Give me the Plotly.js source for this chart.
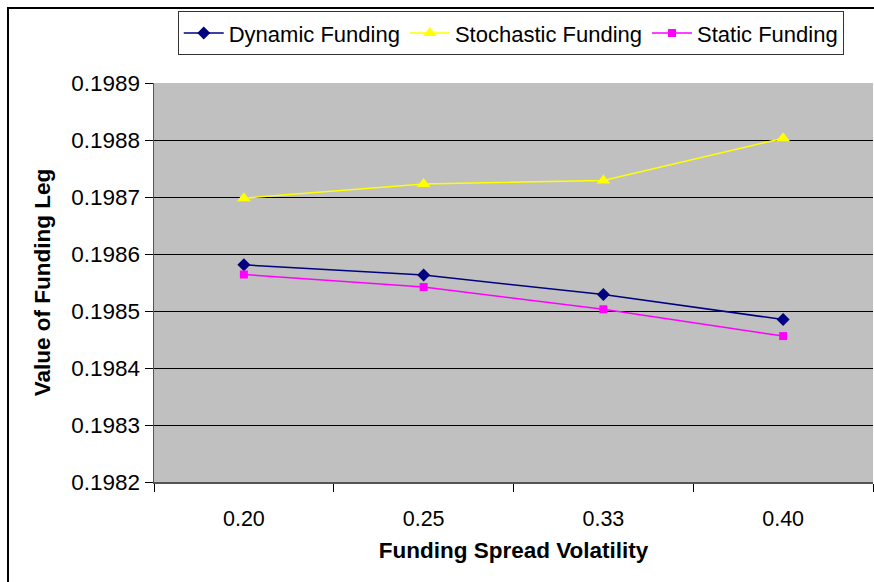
<!DOCTYPE html>
<html>
<head>
<meta charset="utf-8">
<script src="https://cdn.plot.ly/plotly-3.0.1.min.js"></script>
<style>
  html, body { margin: 0; padding: 0; background: #fff; }
  #frame { position: absolute; left: 7px; top: 7px; width: 880px; height: 590px;
           border-left: 2px solid #000; border-top: 2px solid #000; box-sizing: border-box; }
  #chart { position: absolute; left: 0; top: 0; width: 874px; height: 582px; }
</style>
</head>
<body>
<div id="frame"></div>
<div id="chart"></div>
<script>
// Funding spread volatility levels (category axis)
const volatility = ["0.20", "0.25", "0.33", "0.40"];

// Value of the funding leg under each funding model
const dynamicFunding    = [0.198581, 0.198563, 0.198529, 0.198485];
const stochasticFunding = [0.198698, 0.198723, 0.198729, 0.198803];
const staticFunding     = [0.198564, 0.198542, 0.198503, 0.198456];

const fam = "Liberation Sans, Arial, sans-serif";
const f = (size) => ({ family: fam, size: size, color: "#000" });

const traces = [
  {
    name: "Dynamic Funding", x: volatility, y: dynamicFunding,
    type: "scatter", mode: "lines+markers",
    line: { color: "#000080", width: 1.5 },
    marker: { symbol: "diamond", size: 10, color: "#000080" }
  },
  {
    name: "Stochastic Funding", x: volatility, y: stochasticFunding,
    type: "scatter", mode: "lines+markers",
    line: { color: "#FFFF00", width: 1.5 },
    marker: { symbol: "triangle-up", size: 12, color: "#FFFF00" }
  },
  {
    name: "Static Funding", x: volatility, y: staticFunding,
    type: "scatter", mode: "lines+markers",
    line: { color: "#FF00FF", width: 1.5 },
    marker: { symbol: "square", size: 8, color: "#FF00FF" }
  }
];

const layout = {
  width: 874, height: 582,
  margin: { l: 154, r: 1, t: 82.5, b: 99.5 },
  paper_bgcolor: "rgba(0,0,0,0)",
  plot_bgcolor: "#C0C0C0",
  font: f(21),
  showlegend: true,
  legend: {
    orientation: "h",
    x: 0.033, xanchor: "left",
    y: 1.18, yanchor: "top",
    bgcolor: "#FFFFFF",
    bordercolor: "#333333", borderwidth: 1,
    font: f(22),
    itemwidth: 40
  },
  xaxis: {
    type: "category",
    range: [-0.5, 3.5],
    tickson: "boundaries",
    ticks: "outside", ticklen: 8, tickcolor: "#000",
    ticklabelstandoff: 17,
    showline: true, linecolor: "#555", linewidth: 1.5,
    showgrid: false,
    tickfont: f(21.5),
    title: { text: "<b>Funding Spread Volatility</b>", font: f(22.5), standoff: 12 },
    fixedrange: true
  },
  yaxis: {
    range: [0.1982, 0.1989],
    dtick: 0.0001, tick0: 0.1982,
    tickformat: ".4f",
    ticks: "outside", ticklen: 8, tickcolor: "#000",
    showline: true, linecolor: "#555", linewidth: 1.5,
    showgrid: true, gridcolor: "#000", gridwidth: 1,
    zeroline: false,
    tickfont: f(22.5),
    title: { text: "<b>Value of Funding Leg</b>", font: f(22.5), standoff: 14 },
    fixedrange: true
  }
};

Plotly.newPlot("chart", traces, layout, { displayModeBar: false, staticPlot: true });
</script>
</body>
</html>
